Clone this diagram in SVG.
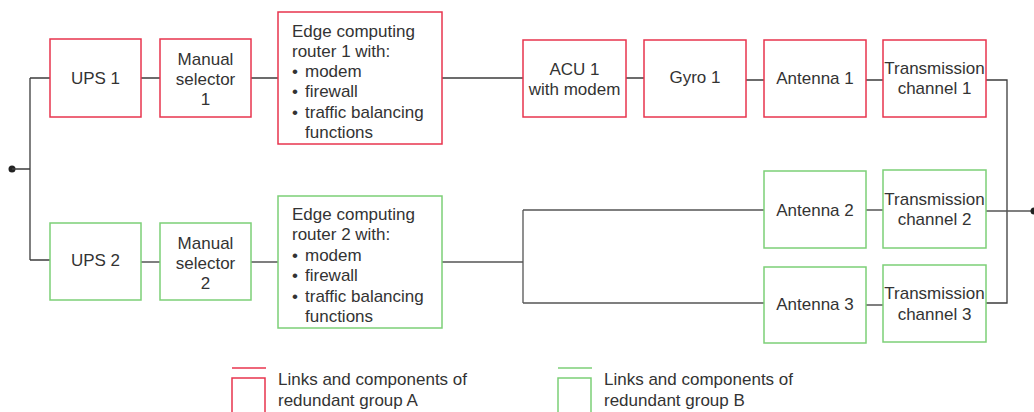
<svg xmlns="http://www.w3.org/2000/svg" width="1034" height="412" viewBox="0 0 1034 412">
<style>
text{font-family:"Liberation Sans",Arial,sans-serif;font-size:17px;fill:#333}
.c{text-anchor:middle}
.a{fill:#fff;stroke:#e8344e;stroke-width:1.5}
.b{fill:#fff;stroke:#7ccf77;stroke-width:1.5}
.w{fill:none;stroke:#3c3c3c;stroke-width:1.3}
.w2{fill:none;stroke:#555;stroke-width:1.3}
</style>
<rect width="1034" height="412" fill="#fff"/>
<g id="connectors">
<circle cx="12" cy="169" r="3.5" fill="#222"/>
<path class="w" d="M12 169H30M30 78V260M30 78H50M30 260H50"/>
<path class="w" d="M141 78H160M251 78H278M442 78H523M626 78H644M746 80H764M866 80H883M986 80H1007V303H986"/>
<path class="w2" d="M141 262H160M251 262H278M442 262H523M523 210V303M523 210H764M523 303H764M866 210H883M866 305H883M986 211H1034"/>
<circle cx="1034" cy="211" r="3.5" fill="#222"/>
</g>
<g id="ups1"><rect class="a" x="50" y="39" width="91" height="78"/><text class="c" x="95.5" y="84">UPS 1</text></g>
<g id="ms1"><rect class="a" x="160" y="39" width="91" height="78"/><text class="c" x="205.5" y="65">Manual</text><text class="c" x="205.5" y="85">selector</text><text class="c" x="205.5" y="105">1</text></g>
<g id="router1"><rect class="a" x="278" y="12" width="164" height="132"/>
<text x="292" y="37">Edge computing</text><text x="292" y="57">router 1 with:</text>
<text y="77"><tspan x="292">•</tspan><tspan x="305">modem</tspan></text>
<text y="97"><tspan x="292">•</tspan><tspan x="305">firewall</tspan></text>
<text y="118"><tspan x="292">•</tspan><tspan x="305">traffic balancing</tspan></text>
<text x="305" y="138">functions</text></g>
<g id="acu1"><rect class="a" x="523" y="40" width="103" height="77"/><text class="c" x="574.5" y="75">ACU 1</text><text class="c" x="574.5" y="95">with modem</text></g>
<g id="gyro1"><rect class="a" x="644" y="40" width="102" height="77"/><text class="c" x="695" y="83">Gyro 1</text></g>
<g id="antenna1"><rect class="a" x="764" y="40" width="102" height="77"/><text class="c" x="815" y="84">Antenna 1</text></g>
<g id="trans1"><rect class="a" x="883" y="40" width="103" height="77"/><text class="c" x="934.5" y="74">Transmission</text><text class="c" x="934.5" y="94">channel 1</text></g>
<g id="ups2"><rect class="b" x="50" y="223" width="91" height="77"/><text class="c" x="95.5" y="266">UPS 2</text></g>
<g id="ms2"><rect class="b" x="160" y="223" width="91" height="77"/><text class="c" x="205.5" y="249">Manual</text><text class="c" x="205.5" y="269">selector</text><text class="c" x="205.5" y="289">2</text></g>
<g id="router2"><rect class="b" x="278" y="196" width="164" height="132"/>
<text x="292" y="220">Edge computing</text><text x="292" y="240">router 2 with:</text>
<text y="261"><tspan x="292">•</tspan><tspan x="305">modem</tspan></text>
<text y="281"><tspan x="292">•</tspan><tspan x="305">firewall</tspan></text>
<text y="302"><tspan x="292">•</tspan><tspan x="305">traffic balancing</tspan></text>
<text x="305" y="322">functions</text></g>
<g id="antenna2"><rect class="b" x="764" y="171" width="102" height="77"/><text class="c" x="815" y="216">Antenna 2</text></g>
<g id="trans2"><rect class="b" x="883" y="170" width="103" height="78"/><text class="c" x="934.5" y="205">Transmission</text><text class="c" x="934.5" y="225">channel 2</text></g>
<g id="antenna3"><rect class="b" x="764" y="267" width="102" height="76"/><text class="c" x="815" y="310">Antenna 3</text></g>
<g id="trans3"><rect class="b" x="883" y="265" width="103" height="77"/><text class="c" x="934.5" y="299">Transmission</text><text class="c" x="934.5" y="320">channel 3</text></g>
<g id="legendA">
<path d="M232 368H266" stroke="#e8344e" stroke-width="1.5"/>
<path d="M232 412V378H265V412" fill="none" stroke="#e8344e" stroke-width="1.5"/>
<text x="278" y="385">Links and components of</text><text x="278" y="406">redundant group A</text></g>
<g id="legendB">
<path d="M558 368H592" stroke="#7ccf77" stroke-width="1.5"/>
<path d="M558 412V378H591V412" fill="none" stroke="#7ccf77" stroke-width="1.5"/>
<text x="604" y="385">Links and components of</text><text x="604" y="406">redundant group B</text></g>
</svg>
